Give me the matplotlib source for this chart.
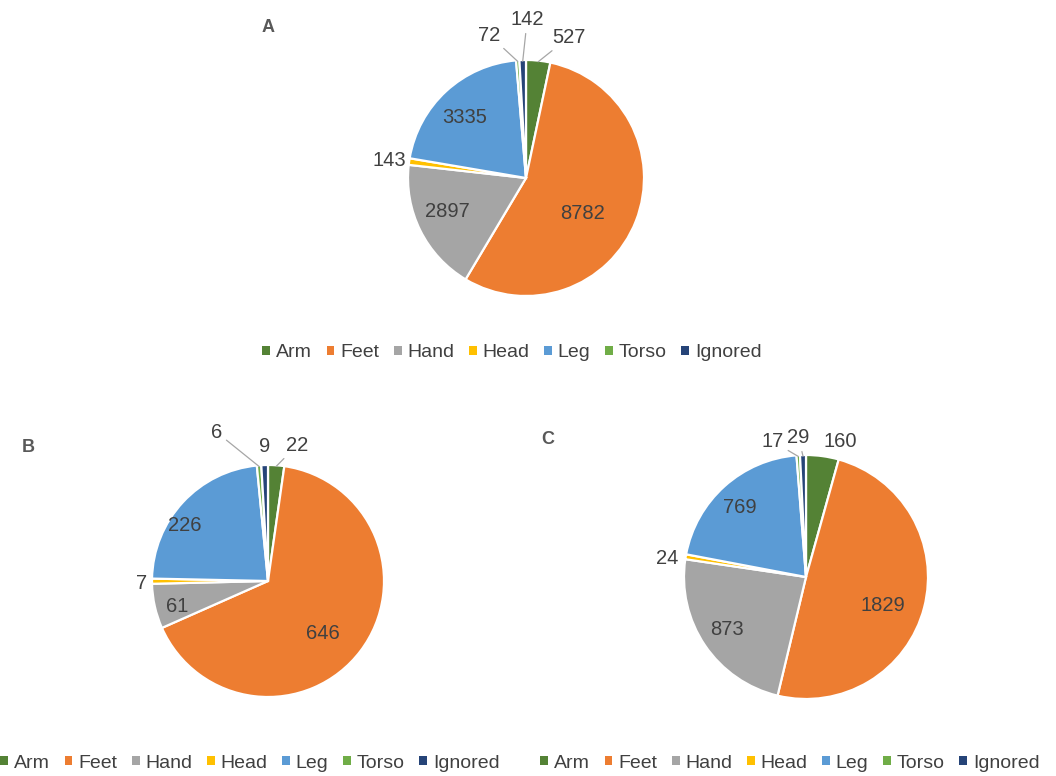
import numpy as np
import matplotlib
matplotlib.use("Agg")
import matplotlib.pyplot as plt
from matplotlib.patches import Patch

plt.rcParams['font.family'] = ['Liberation Sans', 'DejaVu Sans']

# Body regions (legend order, also slice order clockwise from 12 o'clock)
categories = ["Arm", "Feet", "Hand", "Head", "Leg", "Torso", "Ignored"]
colors = ["#548235", "#ED7D31", "#A5A5A5", "#FFC000", "#5B9BD5", "#70AD47", "#264478"]

counts_a = [527, 8782, 2897, 143, 3335, 72, 142]
counts_b = [22, 646, 61, 7, 226, 6, 9]
counts_c = [160, 1829, 873, 24, 769, 17, 29]

panel_titles = ["A", "B", "C"]

W, H = 1056, 776
fig = plt.figure(figsize=(W / 100, H / 100), dpi=100)

TEXT = "#404040"
LEADER = "#A6A6A6"
FS = 14.5

# Label placement per panel: (dx, dy) in pie-radius units, and whether a leader line is drawn
label_layout = {
    "A": dict(center=(526, 178), radius=118,
              pos=[(0.36, 1.19), (0.48, -0.30), (-0.67, -0.28), (-1.16, 0.15),
                   (-0.52, 0.51), (-0.31, 1.21), (0.01, 1.34)],
              leader=[True, False, False, False, False, True, True]),
    "B": dict(center=(268, 581), radius=116,
              pos=[(0.25, 1.17), (0.47, -0.45), (-0.78, -0.22), (-1.09, -0.02),
                   (-0.72, 0.48), (-0.44, 1.28), (-0.03, 1.16)],
              leader=[True, False, False, False, False, True, False]),
    "C": dict(center=(806, 577), radius=122,
              pos=[(0.28, 1.11), (0.63, -0.23), (-0.65, -0.43), (-1.14, 0.15),
                   (-0.54, 0.57), (-0.27, 1.11), (-0.06, 1.14)],
              leader=[False, False, False, False, False, True, True]),
}

K = 1.6  # axes half-extent in pie radii


def pie_panel(values, layout):
    cx, cy, r = layout["center"][0], layout["center"][1], layout["radius"]
    half = K * r
    ax = fig.add_axes([(cx - half) / W, (H - cy - half) / H, 2 * half / W, 2 * half / H])
    wedges, _ = ax.pie(values, colors=colors, startangle=90, counterclock=False,
                       radius=1.0, wedgeprops=dict(edgecolor="white", linewidth=1.6))
    ax.set_xlim(-K, K)
    ax.set_ylim(-K, K)
    ax.set_aspect("equal")
    ax.axis("off")
    for w, v, (dx, dy), lead in zip(wedges, values, layout["pos"], layout["leader"]):
        mid = np.deg2rad((w.theta1 + w.theta2) / 2)
        if lead:
            ax.annotate(str(v), xy=(np.cos(mid) * 0.99, np.sin(mid) * 0.99), xytext=(dx, dy),
                        ha="center", va="center", fontsize=FS, color=TEXT,
                        arrowprops=dict(arrowstyle="-", color=LEADER, lw=0.9,
                                        shrinkA=1, shrinkB=0))
        else:
            ax.text(dx, dy, str(v), ha="center", va="center", fontsize=FS, color=TEXT)
    return ax


for title, vals in zip(panel_titles, [counts_a, counts_b, counts_c]):
    pie_panel(vals, label_layout[title])

# Panel letters
title_pos = {"A": (268, 28), "B": (28, 448), "C": (548, 440)}
for t in panel_titles:
    x, y = title_pos[t]
    fig.text(x / W, 1 - y / H, t, ha="center", va="center", fontsize=13,
             fontweight="bold", color="#595959")

handles = [Patch(facecolor=c, edgecolor="none") for c in colors]
legend_pos = [(512, 353), (250, 763), (790, 763)]
for (x, y) in legend_pos:
    fig.legend(handles, categories, loc="center", bbox_to_anchor=(x / W, 1 - y / H),
               ncol=len(categories), frameon=False, fontsize=14, labelcolor=TEXT,
               handlelength=0.4, handleheight=0.4, handletextpad=0.3,
               columnspacing=0.75, borderpad=0)

fig.savefig("out.png", dpi=100, facecolor="white")
